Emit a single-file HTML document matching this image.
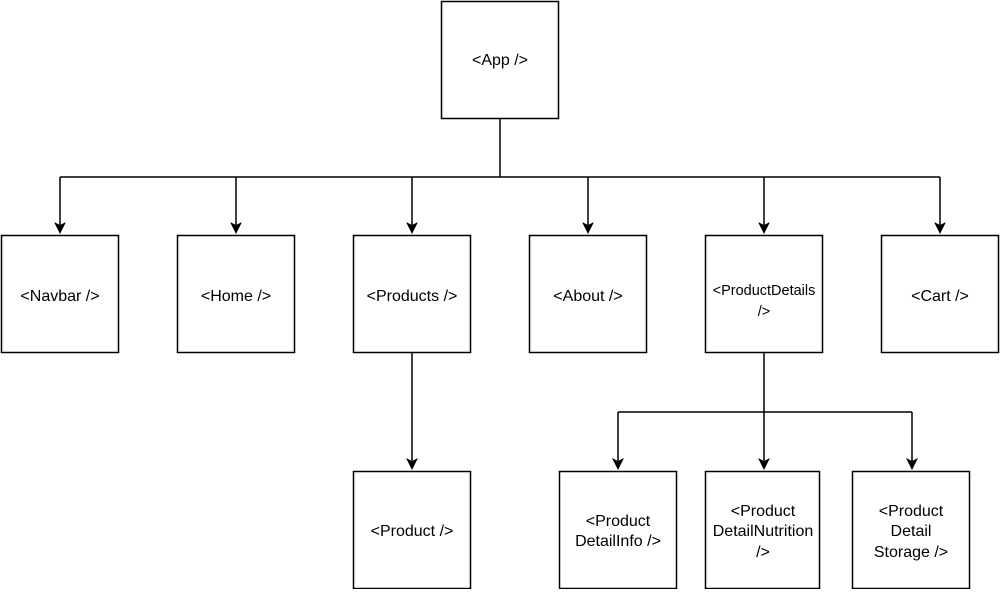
<!DOCTYPE html>
<html><head><meta charset="utf-8"><style>
body{margin:0;background:#fff;width:1000px;height:589px;overflow:hidden}
</style></head><body>
<svg width="1000" height="589" xmlns="http://www.w3.org/2000/svg" font-family="Liberation Sans, Helvetica, sans-serif" font-size="16" fill="#000">
<g stroke="#000" stroke-width="1.5" fill="none">
<rect x="441.5" y="1.5" width="117" height="117"/>
<rect x="1.5" y="235.5" width="117" height="117"/>
<rect x="177.5" y="235.5" width="117" height="117"/>
<rect x="353.5" y="235.5" width="117" height="117"/>
<rect x="529.5" y="235.5" width="117" height="117"/>
<rect x="705.5" y="235.5" width="117" height="117"/>
<rect x="881.5" y="235.5" width="117" height="117"/>
<rect x="353.5" y="471.5" width="117" height="117"/>
<rect x="559.5" y="471.5" width="117" height="117"/>
<rect x="705.5" y="471.5" width="114" height="117"/>
<rect x="852.5" y="471.5" width="117" height="117"/>
<path d="M500,119 V177 M60,177 H940"/>
<path d="M60,177 V226 M236,177 V226 M412,177 V226 M588,177 V226 M764,177 V226 M940,177 V226"/>
<path d="M412,353 V462 M764,353 V462"/>
<path d="M618,412 H912 M618,412 V462 M912,412 V462"/>
</g>
<g fill="#000">
<path d="M54,222 L60,225 L66,222 L60,234 Z"/>
<path d="M230,222 L236,225 L242,222 L236,234 Z"/>
<path d="M406,222 L412,225 L418,222 L412,234 Z"/>
<path d="M582,222 L588,225 L594,222 L588,234 Z"/>
<path d="M758,222 L764,225 L770,222 L764,234 Z"/>
<path d="M934,222 L940,225 L946,222 L940,234 Z"/>
<path d="M406,458 L412,461 L418,458 L412,470 Z"/>
<path d="M758,458 L764,461 L770,458 L764,470 Z"/>
<path d="M612,458 L618,461 L624,458 L618,470 Z"/>
<path d="M906,458 L912,461 L918,458 L912,470 Z"/>
</g>
<g text-anchor="middle">
<text x="500" y="65">&lt;App /&gt;</text>
<text x="60" y="301">&lt;Navbar /&gt;</text>
<text x="236" y="301">&lt;Home /&gt;</text>
<text x="412" y="301">&lt;Products /&gt;</text>
<text x="588" y="301">&lt;About /&gt;</text>
<text x="764" y="295" font-size="14.5">&lt;ProductDetails</text>
<text x="764" y="316" font-size="14.5">/&gt;</text>
<text x="940" y="301">&lt;Cart /&gt;</text>
<text x="412" y="536">&lt;Product /&gt;</text>
<text x="618" y="526">&lt;Product</text>
<text x="618" y="546">DetailInfo /&gt;</text>
<text x="763" y="516">&lt;Product</text>
<text x="763" y="536">DetailNutrition</text>
<text x="763" y="557">/&gt;</text>
<text x="911" y="516">&lt;Product</text>
<text x="911" y="536">Detail</text>
<text x="911" y="557">Storage /&gt;</text>
</g>
</svg>
</body></html>
